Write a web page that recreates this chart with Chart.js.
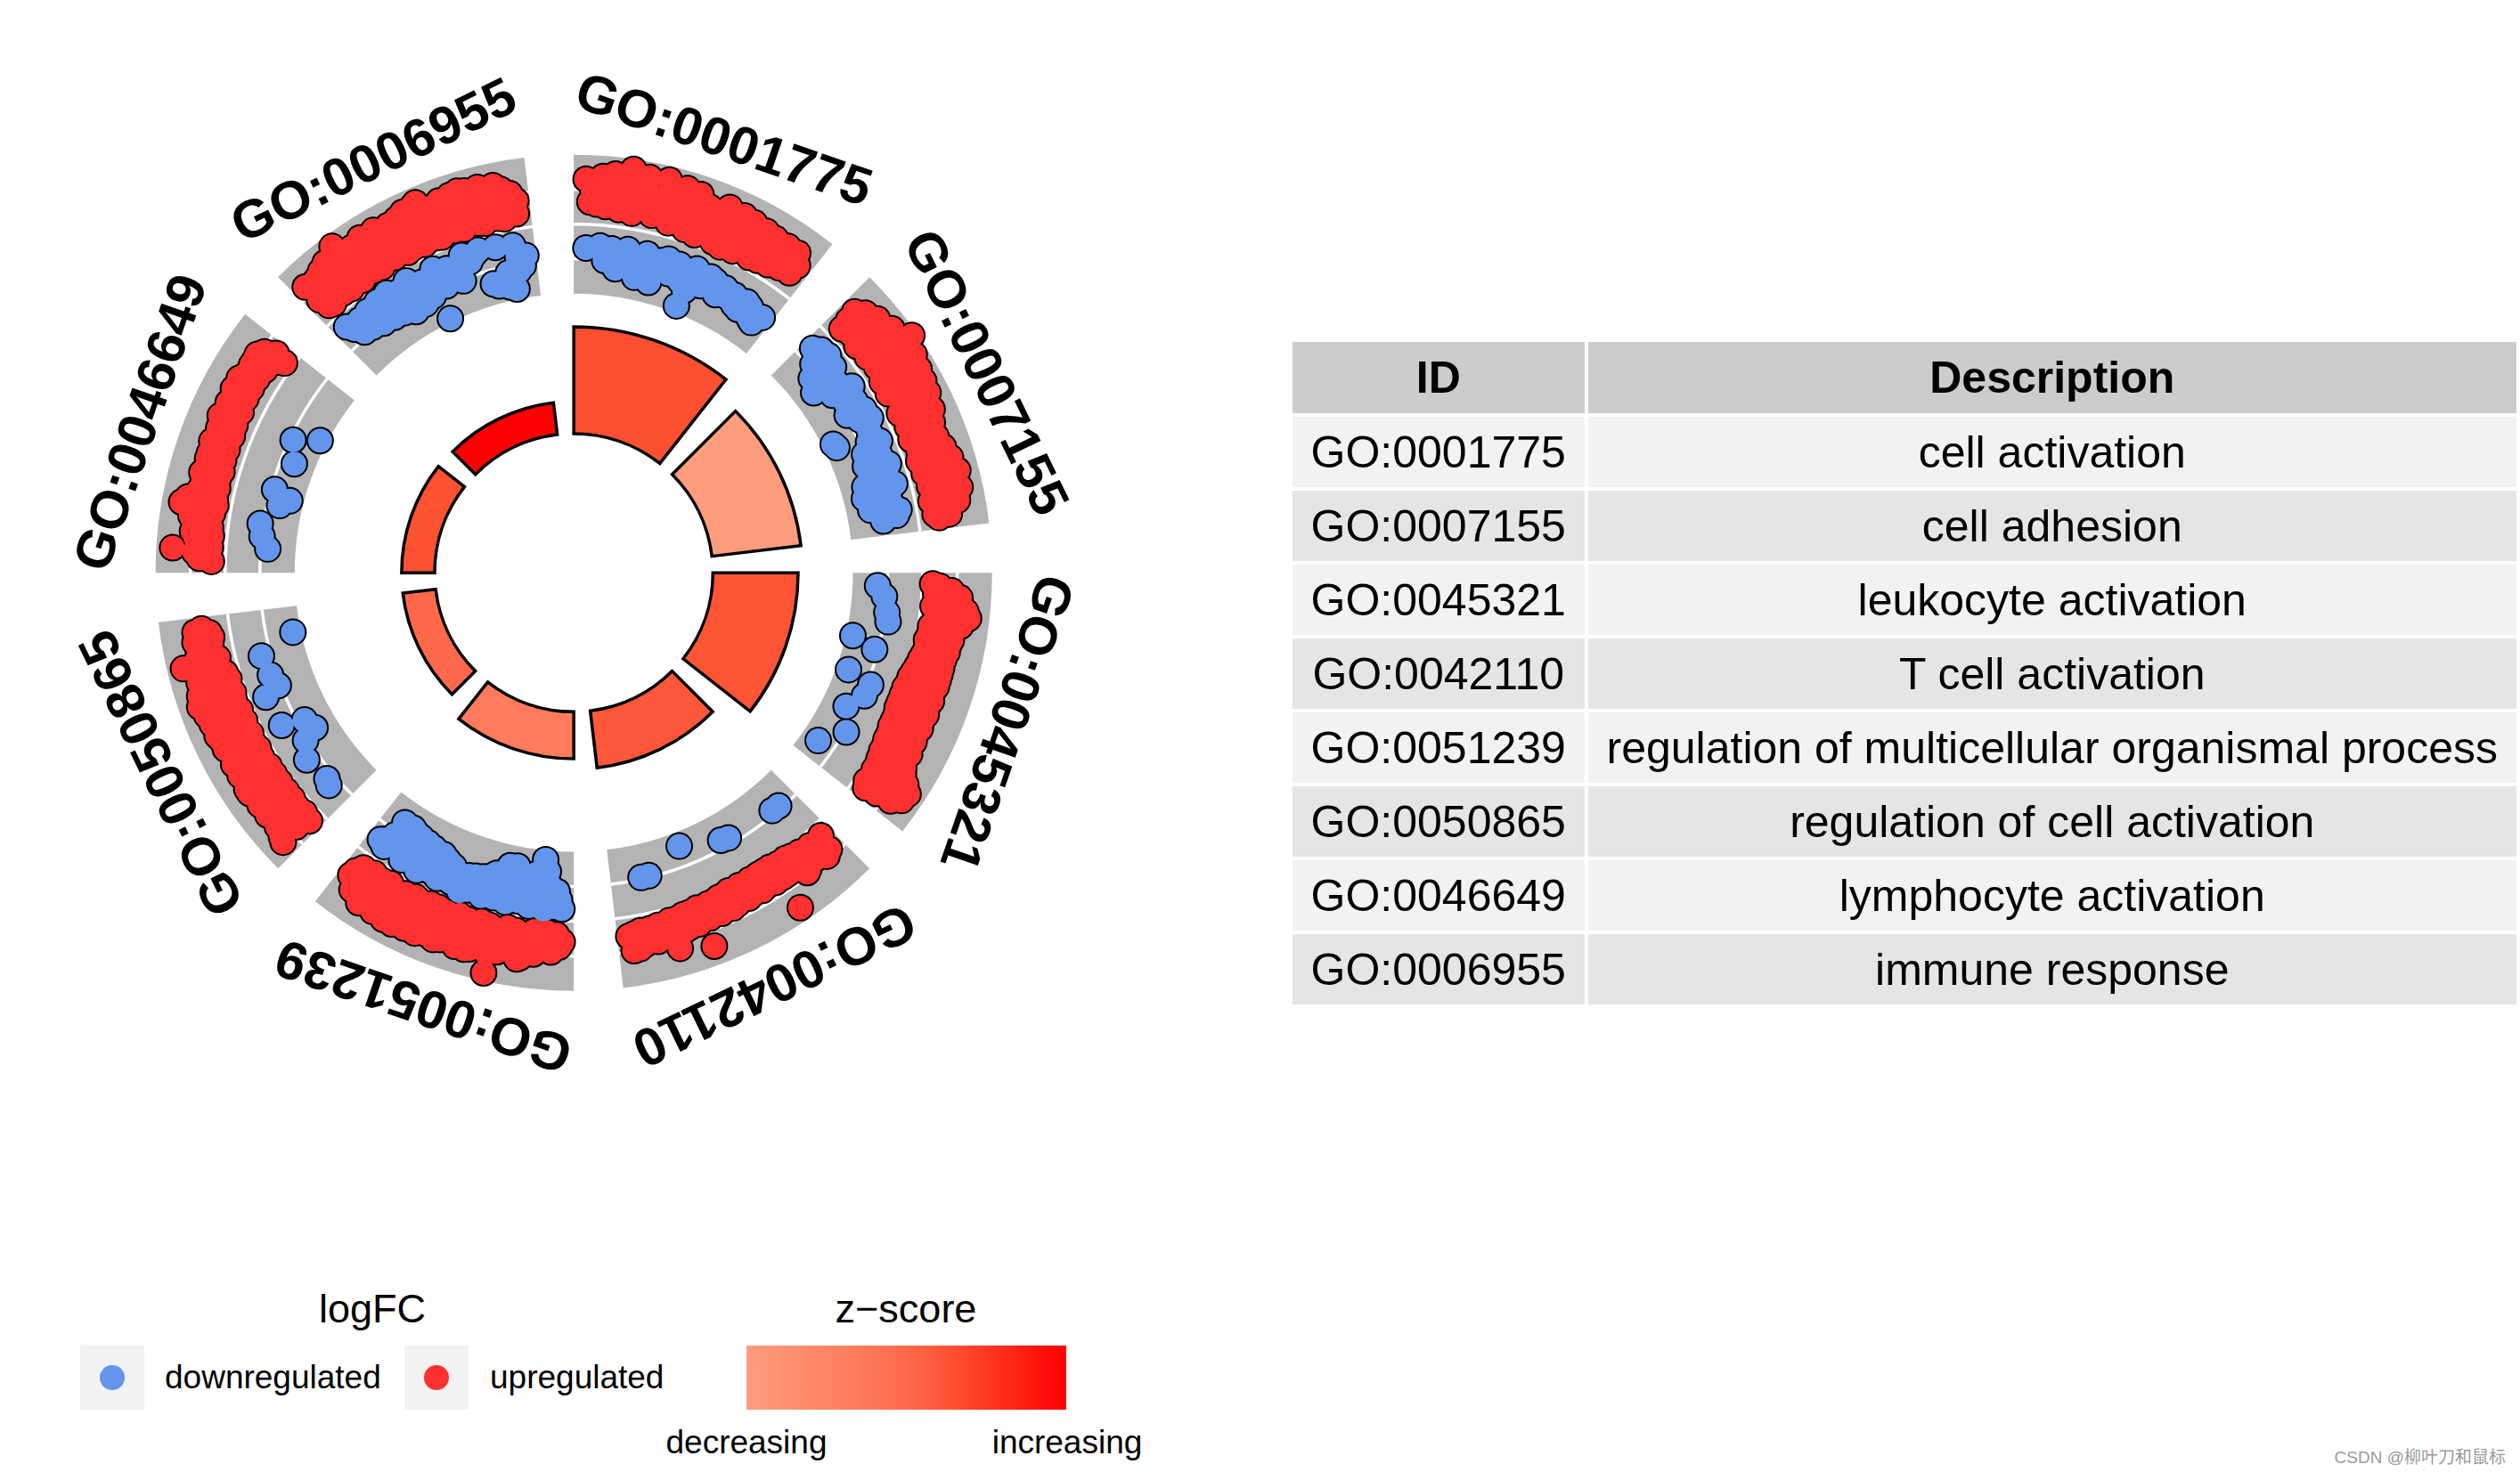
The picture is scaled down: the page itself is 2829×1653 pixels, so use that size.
<!DOCTYPE html>
<html>
<head>
<meta charset="utf-8">
<script src="https://cdn.jsdelivr.net/npm/chart.js@4.4.1/dist/chart.umd.min.js"></script>
<style>
  body { margin: 0; width: 2829px; height: 1653px; background: #fff; position: relative; overflow: hidden;
         font-family: 'Liberation Sans', Arial, sans-serif; color: #000; }
  #circle { position: absolute; left: 0; top: 0; }
  #goTable { position: absolute; left: 1447px; top: 380px; border-collapse: separate; border-spacing: 4px; }
  #goTable td, #goTable th { padding: 0; text-align: center; vertical-align: middle; font-size: 50px; white-space: nowrap; }
  #goTable th { background: #cccccc; height: 80px; font-weight: bold; }
  #goTable td { height: 79px; font-weight: normal; }
  #goTable tr:nth-child(odd) td { background: #f2f2f2; }
  #goTable tr:nth-child(even) td { background: #e5e5e5; }
  .lg { position: absolute; white-space: nowrap; }
  .title { font-size: 45px; width: 400px; text-align: center; line-height: 50px; top: 1445px; }
  .key { top: 1511px; width: 72px; height: 72px; background: #f2f2f2; }
  .key span { position: absolute; left: 22px; top: 22px; width: 28px; height: 28px; border-radius: 50%; }
  .ktxt { font-size: 37px; line-height: 44px; top: 1525px; }
  .tick { font-size: 37px; width: 300px; text-align: center; line-height: 44px; top: 1598px; }
  #bar { top: 1511px; left: 838px; width: 359px; height: 72px; }
  #mark { position: absolute; right: 16px; top: 1621px; font-size: 19px; color: #9a9a9a;
          font-family: 'Liberation Sans', 'Noto Sans CJK SC', sans-serif; }
</style>
</head>
<body>
<canvas id="circle" width="1300" height="1300"></canvas>
<table id="goTable"><thead><tr><th style="width:328px">ID</th><th style="width:1043px">Description</th></tr></thead><tbody></tbody></table>

<div class="lg title" style="left:218px">logFC</div>
<div class="lg key" style="left:90px"><span style="background:#6495ED"></span></div>
<div class="lg ktxt" style="left:185px">downregulated</div>
<div class="lg key" style="left:454px"><span style="background:#FF3030"></span></div>
<div class="lg ktxt" style="left:550px">upregulated</div>
<div class="lg title" style="left:817px">z−score</div>
<div class="lg" id="bar"></div>
<div class="lg tick" style="left:688px">decreasing</div>
<div class="lg tick" style="left:1048px">increasing</div>
<div id="mark">CSDN @柳叶刀和鼠标</div>

<script>
// GO terms, clockwise from 12 o'clock
const goIds = ['GO:0001775', 'GO:0007155', 'GO:0045321', 'GO:0042110',
               'GO:0051239', 'GO:0050865', 'GO:0046649', 'GO:0006955'];
const descriptions = ['cell activation', 'cell adhesion', 'leukocyte activation', 'T cell activation',
                      'regulation of multicellular organismal process', 'regulation of cell activation',
                      'lymphocyte activation', 'immune response'];
const zScores = [7.3, 3.1, 7.1, 7.0, 5.4, 6.4, 7.2, 9.6];
const negLogAdjP = [12.3, 10.3, 9.8, 6.6, 5.4, 3.8, 3.8, 3.7];
const lfcGrid = [-1, 0, 1];

// logFC of the genes of each term, in plotting order
const lfc_GO0001775 = [1.3, -0.68, 0.65, 1.0, 1.25, 0.6, 0.9, 1.4, -0.6, 0.55, 1.0, -1.0, 1.5, 1.1,
  -0.65, 0.5, 0.8, -1.2, -0.85, 1.7, 1.25, 0.45, -0.6, 0.85, 1.2, -0.9, 1.55, 1.1, -1.35, -0.95, 0.5,
  0.8, -0.62, 0.95, 1.6, 1.15, -1.4, -1.0, 0.4, 0.75, -0.7, 1.1, 1.5, -0.6, 0.8, -1.0, 0.35, 1.0,
  1.45, -0.65, 0.65, 0.3, -1.1, 1.2, 0.85, -1.8, -1.3, 0.6, -0.6, -0.9, 0.3, 1.4, 1.0, -1.0, 0.25,
  0.6, -0.65, 0.9, 1.35, -0.7, 0.3, 0.65, -1.05, 1.3, 0.95, -0.75, 0.6, -0.95, 0.35, 1.25, 0.85,
  -0.8, 0.4, -1.05, 1.2, 0.8, -1.1, 0.45, -0.78, 0.9, 1.2, -0.85, 0.55, 0.9, -1.15, 1.2, -1.2, 0.6,
  0.9, -0.9];
const lfc_GO0007155 = [-0.6, 1.0, 0.7, 0.4, -0.45, 1.2, 0.8, -0.9, 0.5, -0.4, 0.8, 1.35, 0.95, -1.2,
  -0.8, 0.4, -0.5, 0.7, 1.0, 1.5, 1.05, -1.4, -1.0, 0.45, -0.7, 0.75, 0.9, 1.85, 1.4, -1.0, 0.5,
  -0.4, -0.7, 0.85, 1.2, 1.6, 1.15, -0.8, 0.4, -0.55, 0.75, 1.0, 1.5, 1.05, -0.95, 0.38, -0.45, 0.7,
  1.45, 1.0, -0.7, 0.6, -0.4, 1.0, 1.4, 0.95, -1.7, 0.4, -0.6, -1.65, 0.7, 0.9, 1.3, 0.9, -0.75,
  0.45, -0.45, 0.7, 1.15, 0.8, -1.0, -0.7, 0.4, -0.6, 0.8, 1.1, 0.75, -1.1, -0.75, 0.5, -0.45, 1.2,
  0.85, -1.05, 0.4, -0.6, 0.9, 1.3, 0.9, -1.3, -0.9, 0.45, -0.45, 0.75, 1.4, 1.0, -1.4, -1.0, 0.5,
  -0.7, 0.75, 1.0, 1.35, 0.95, -1.3, -0.9, 0.45, -0.5, 1.2, 0.8, -0.6, 0.85, -1.0, 0.5, 0.9, 0.6];
const lfc_GO0045321 = [0.3, 0.5, -1.28, 0.85, 0.6, 0.4, 1.1, 0.75, -1.07, 0.9, 0.55, 0.35, 1.3, 0.9,
  0.6, 1.4, 1.0, -0.95, 0.45, 1.2, 0.8, 0.35, -0.88, 0.95, 0.6, 0.35, 1.0, 0.65, 0.3, 0.95, 0.6,
  0.35, 0.95, 0.6, -1.8, 0.3, 0.9, 0.55, 0.25, -1.1, 0.9, 0.5, 0.2, 0.9, 0.5, 0.15, 0.9, 0.5, 0.1,
  0.9, 0.45, 0.1, 0.85, 0.45, 0.05, -1.65, 0.9, 0.45, 0.05, -0.9, 0.85, 0.45, 0.05, 0.9, 0.5, 0.05,
  -0.95, 0.85, 0.45, 0.1, 0.9, 0.5, 0.1, 0.85, 0.45, 0.1, -1.3, 0.9, 0.5, 0.15, 0.85, 0.5, 0.15,
  0.95, 0.55, 0.2, 0.9, 0.55, 0.2, -0.95, 1.0, 0.6, 0.25, 1.1, 0.7, 0.3, 1.3, 0.8, 0.3, 1.5, 0.9,
  0.35, -1.5, 1.45, 0.85, 0.3, 1.2, 0.75, 0.4];
const lfc_GO0042110 = [0.35, 0.8, 0.6, 0.9, -1.1, 0.35, 0.75, -1.12, 0.5, 0.3, 0.85, 0.9, 0.25,
  0.65, 0.2, 0.3, 0.6, 0.2, 0.6, 1.6, 0.15, 0.6, 0.15, 0.55, 0.15, 0.15, 0.6, -1.2, 0.15, 0.55,
  -1.25, 0.6, 0.15, 0.55, 0.2, 0.6, 0.15, 0.65, 0.2, 0.6, 0.2, 0.65, 0.25, 0.6, 0.25, 0.65,
  -1.6, 1.45, 0.25, 0.7, 0.3, 0.3, 0.7, 0.3, 0.75, 0.35, 0.8, 1.2, 0.35, 0.4, 0.8,
  -1.05, 0.4, 0.85, -1.05, 0.45, 0.5, 0.85, 0.45, 0.95, 0.5, 0.98, 0.55];
const lfc_GO0051239 = [0.6, -0.35, 0.75, -0.6, 0.4, -0.84, -0.4, 0.9, 0.55, -0.6, 0.35, -1.0, 0.8,
  -1.4, -0.3, 0.45, -1.73, -1.1, 1.0, 0.35, -0.5, 0.7, -1.3, -0.9, 0.6, -0.35, 1.15, -0.7, 1.2, 0.8,
  -1.0, 0.4, 0.7, -0.45, 1.0, -1.2, -0.8, 0.35, -1.43, -1.0, 0.9, 1.1, -0.35, 0.5, -1.4, -0.75,
  1.77, 1.2, -0.9, 0.4, 1.0, -0.4, 0.6, -1.1, -0.7, 0.35, -1.0, 0.8, 1.2, 0.8, -0.35, 1.25, -0.9,
  -0.6, 0.4, -0.6, 1.0, 1.25, -0.85, 0.5, 0.35, -0.4, 1.1, -0.8, 0.7, 0.8, -0.3, 1.2, -0.55,
  0.4, -0.75, 1.27, 0.8, 0.9, -0.45, 0.35, -0.9, 1.2, -0.8, 0.5, -0.5, 0.35, -1.0, 1.3, -0.4, 0.8,
  0.8, -1.1, -0.7, 0.4, 1.3, -0.5, 0.35, -1.05, 0.8, 0.9, -1.15, -0.8, 1.35, 0.4, -0.35, 1.1, -1.2,
  -0.75, 1.35, -0.6, 0.5, 0.9, 0.8, -1.25, -0.8, 0.35, 1.3, -0.4, 0.6, -1.3, -0.85, 0.4, -1.35,
  -0.9, 1.2, 0.8, 1.3, -0.8, 0.35, 0.9, -1.35, -0.9, 0.5, -0.45, 1.1, -0.63, 0.4, 0.8, -0.55, 0.6,
  0.78];
const lfc_GO0050865 = [0.4, 1.37, 0.8, 1.3, 0.35, 0.9, -0.7, 1.2, 0.4, -0.78, 0.8, 1.1, 0.35, 1.2, 0.6,
  1.1, 0.35, 0.8, 1.2, 0.4, 1.1, 0.35, -0.65, 0.9, 1.25, 0.35, 1.25, 0.7, 1.1, 0.35,
  -0.93, 0.9, 1.2, -1.35, 0.4, 1.1, 0.7, 1.2, 0.35, -1.2, 1.1, 0.4, -0.55, 0.9, 1.2, 0.35, 1.15,
  0.8, 1.2, 0.4, 1.25, 0.35, 0.9, 1.2, 0.4, 1.25, 0.35, -0.48, 0.8, 1.3, -0.93, 0.4, 1.2,
  1.4, 0.35, 0.9, -0.82, 1.3, 0.4, 1.1, 0.35, 0.9, 1.2, 0.4, 0.6, 1.1, -0.73, 0.8, 1.0,
  1.53, 0.5, 1.1, 0.6, 1.0, -1.77, 0.7, 1.0, 0.6, 1.05, 0.55, 0.9, 0.6, 1.0, 0.8];
const lfc_GO0046649 = [0.4, 0.75, 0.5, 0.9, 1.53, 0.45, -1.2, 0.6, 0.9, 0.45, 1.0, -1.0, 0.5, 0.9,
  0.55, 1.1, -0.9, 0.5, 1.0, 1.43, 0.45, 1.28, 0.5, 0.6, 1.0, -1.35, 0.5, 0.95, -1.6, 0.55, 1.05,
  -1.1, 0.5, 0.95, 0.6, 1.0, 0.55, 1.0, 0.6, 0.95, 0.55, 1.05, 0.6, 0.93, -1.4, 0.55, 1.0,
  0.6, 0.95, 0.6, 1.1, 0.65, 1.0, -1.1, 0.6, 1.05, 0.7, 1.0, -1.8, 0.65, 1.1, 0.7, 1.0,
  0.65, 1.1, 0.7, 1.0, 0.65, 0.95, 0.7, 1.0, 0.6, 1.0, 0.7, 1.03, 0.5, 0.9, 0.25, 0.6];
const lfc_GO0006955 = [1.25, 0.7, -0.4, 0.4, 1.0, -0.6, 0.35, 0.8, 1.2, -0.85, 0.5, 0.8, -0.5, 1.3,
  0.9, 0.4, -0.9, 1.0, 1.4, 0.85, -0.45, 0.35, 1.1, 0.7, -1.0, -0.65, 0.6, 1.65, 1.15, -0.4, 0.35,
  0.8, 1.2, -1.05, -0.7, 0.5, 1.3, 0.85, -0.35, 0.4, 0.9, -1.1, -0.7, 1.4, 0.9, 0.35, -0.5, 1.3,
  1.0, -1.25, -0.85, 0.45, 1.38, 0.9, -0.35, 0.4, 1.1, 0.75, -1.2, -0.8, 0.5, 1.3, 0.85, -0.6, 0.35,
  0.9, -1.1, 1.35, 0.8, 0.4, -1.9, 1.2, 1.45, 0.9, -0.4, -0.75, 0.35, 1.0, -1.0, 1.5, 0.7, 1.55,
  1.1, -0.55, 0.4, 1.2, 0.8, -0.7, 0.35, 1.25, 0.85, -1.05, -0.7, 0.5, 1.35, 0.9, -0.35, 0.4, 1.0,
  0.7, -0.6, 1.4, 0.9, 0.35, -0.45, 1.3, 1.45, 0.9, -0.35, 0.5, 1.4, 0.95, -1.4, 0.4, 1.2, 0.8,
  -1.5, 0.35, 1.4, 0.9, -0.4, 0.6, 1.3, 0.85, -1.6, -1.2, 0.4, 1.35, 0.9, -1.7, 0.35, 1.2, -0.45,
  -1.2, -0.8, 0.5, 1.03, -1.07, 0.43, 0.8, -0.8];
const geneLogFC = [lfc_GO0001775, lfc_GO0007155, lfc_GO0045321, lfc_GO0042110,
                   lfc_GO0051239, lfc_GO0050865, lfc_GO0046649, lfc_GO0006955];

// layout (page pixels, circle units = pixels)
const CX = 644, CY = 643, W = 1300, H = 1300;
const STEP = 45, SPAN = 38.2, EDGE = 1.8;
const BAR_BASE = 160, BAR_UNIT = 10;
const RING_IN = 321, RING_OUT = 481, RING_ZERO = 401, RING_UNIT = 40;
const LABEL_R = 524;
const UP_COL = '#FF3030', DOWN_COL = '#6495ED';
const zStops = [[0, [255, 156, 126]], [0.35, [255, 123, 91]], [0.5, [255, 106, 75]], [0.65, [255, 78, 48]], [1, [255, 0, 0]]];

function zColor(t) {
  for (let i = 1; i < zStops.length; i++) {
    if (t <= zStops[i][0]) {
      const [t0, c0] = zStops[i - 1], [t1, c1] = zStops[i];
      const f = (t - t0) / (t1 - t0);
      return 'rgb(' + c0.map((c, k) => Math.round(c + (c1[k] - c) * f)).join(',') + ')';
    }
  }
  return 'rgb(255,0,0)';
}
const zMin = Math.min(...zScores), zMax = Math.max(...zScores);
const barColors = zScores.map(z => zColor((z - zMin) / (zMax - zMin)));
document.getElementById('bar').style.background =
  'linear-gradient(to right,' + zStops.map(s => 'rgb(' + s[1].join(',') + ') ' + (s[0] * 100) + '%').join(',') + ')';

// table
const tbody = document.querySelector('#goTable tbody');
goIds.forEach((id, i) => {
  const tr = document.createElement('tr');
  tr.innerHTML = '<td>' + id + '</td><td>' + descriptions[i] + '</td>';
  tbody.appendChild(tr);
});

// gene points in circle units
function polar(theta, r) {
  const a = theta * Math.PI / 180;
  return { x: r * Math.sin(a), y: r * Math.cos(a) };
}
const allPts = [], upPts = [], downPts = [];
geneLogFC.forEach((vals, i) => {
  vals.forEach((v, k) => {
    const theta = i * STEP + EDGE + (SPAN - 2 * EDGE) * k / (vals.length - 1);
    const p = polar(theta, RING_ZERO + RING_UNIT * v);
    allPts.push(p);
    (v > 0 ? upPts : downPts).push(p);
  });
});

function sector(ctx, ox, oy, r0, r1, a0, a1) {
  ctx.beginPath();
  ctx.arc(ox, oy, r1, a0, a1);
  ctx.arc(ox, oy, r0, a1, a0, true);
  ctx.closePath();
}

const circlePlugin = {
  id: 'goCircle',
  beforeDatasetsDraw(chart) {
    const { ctx, scales: { x, y } } = chart;
    const ox = x.getPixelForValue(0), oy = y.getPixelForValue(0);
    const rad = r => x.getPixelForValue(r) - ox;
    const ang = d => (d - 90) * Math.PI / 180;
    ctx.save();
    goIds.forEach((id, i) => {
      const a0 = ang(i * STEP), a1 = ang(i * STEP + SPAN);
      sector(ctx, ox, oy, rad(RING_IN), rad(RING_OUT), a0, a1);
      ctx.fillStyle = '#b3b3b3';
      ctx.fill();
      lfcGrid.forEach(l => {
        ctx.beginPath();
        ctx.arc(ox, oy, rad(RING_ZERO + RING_UNIT * l), a0, a1);
        ctx.strokeStyle = '#ffffff';
        ctx.lineWidth = 3.5;
        ctx.stroke();
      });
      sector(ctx, ox, oy, rad(BAR_BASE), rad(BAR_BASE + BAR_UNIT * negLogAdjP[i]), a0, a1);
      ctx.fillStyle = barColors[i];
      ctx.fill();
      ctx.strokeStyle = '#000';
      ctx.lineWidth = 3.5;
      ctx.lineJoin = 'miter';
      ctx.stroke();
    });
    ctx.restore();
  },
  afterDatasetsDraw(chart) {
    const { ctx, scales: { x, y } } = chart;
    ctx.save();
    ctx.font = 'bold 60px "Liberation Sans", Arial, sans-serif';
    ctx.fillStyle = '#000';
    ctx.textAlign = 'center';
    ctx.textBaseline = 'middle';
    goIds.forEach((id, i) => {
      const theta = i * STEP + SPAN / 2;
      const p = polar(theta, LABEL_R);
      ctx.save();
      ctx.translate(x.getPixelForValue(p.x), y.getPixelForValue(p.y));
      ctx.rotate(theta * Math.PI / 180);
      ctx.fillText(id, 0, 0);
      ctx.restore();
    });
    ctx.restore();
  }
};

new Chart(document.getElementById('circle'), {
  type: 'scatter',
  data: {
    datasets: [
      { label: 'up', data: upPts, backgroundColor: UP_COL, pointRadius: 13.5, pointBorderWidth: 0, order: 1 },
      { label: 'down', data: downPts, backgroundColor: DOWN_COL, pointRadius: 13.5, pointBorderWidth: 0, order: 1 },
      { label: 'outline', data: allPts, backgroundColor: '#000', pointRadius: 15.5, pointBorderWidth: 0, order: 2 }
    ]
  },
  options: {
    responsive: false,
    devicePixelRatio: 1,
    animation: false,
    events: [],
    layout: { padding: 0 },
    plugins: { legend: { display: false }, tooltip: { enabled: false } },
    scales: {
      x: { type: 'linear', min: -CX, max: W - CX, display: false },
      y: { type: 'linear', min: CY - H, max: CY, display: false }
    }
  },
  plugins: [circlePlugin]
});
</script>
</body>
</html>
